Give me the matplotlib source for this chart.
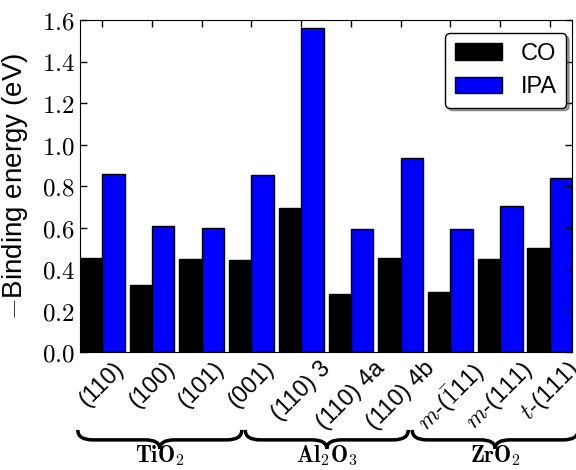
import numpy as np
import matplotlib
matplotlib.use('Agg')
import matplotlib.pyplot as plt
from matplotlib.path import Path
from matplotlib.patches import PathPatch
from matplotlib.ticker import FuncFormatter

plt.rcParams['font.family'] = ['Liberation Sans', 'DejaVu Sans']
plt.rcParams['mathtext.fontset'] = 'cm'

surfaces = ['(110)', '(100)', '(101)', '(001)', '(110) 3', '(110) 4a', '(110) 4b',
            r'$m$-($\bar{1}$11)', r'$m$-(111)', r'$t$-(111)']
co = [0.455, 0.324, 0.45, 0.445, 0.694, 0.281, 0.455, 0.292, 0.448, 0.504]
ipa = [0.859, 0.607, 0.60, 0.853, 1.561, 0.594, 0.936, 0.595, 0.703, 0.841]
groups = [r'$\mathbf{TiO}_\mathbf{2}$', r'$\mathbf{Al}_\mathbf{2}\mathbf{O}_\mathbf{3}$',
          r'$\mathbf{ZrO}_\mathbf{2}$']
group_span = [(-0.004, 0.329), (0.336, 0.667), (0.675, 1.012)]

fig = plt.figure(figsize=(5.76, 4.70), dpi=100)
ax = fig.add_axes([0.1385, 0.2506, 0.855, 0.7064])

x = np.arange(len(surfaces))
w = 0.45
ax.bar(x - w, co, w, align='edge', color='k', edgecolor='k', linewidth=1, label='CO')
ax.bar(x, ipa, w, align='edge', color='b', edgecolor='k', linewidth=1, label='IPA')

ax.set_xlim(-0.45, 9.45)
ax.set_ylim(0, 1.6)
ax.set_yticks(np.arange(0, 1.61, 0.2))
ax.yaxis.set_major_formatter(FuncFormatter(lambda v, p: '$%.1f$' % v))
ax.set_xticks(x)
ax.set_xticklabels(surfaces, rotation=45, fontsize=17)
ax.tick_params(axis='y', labelsize=18)
ax.tick_params(direction='in', top=True, right=True, length=5, width=1)
ax.set_ylabel(r'$-$Binding energy (eV)', fontsize=20)
ax.yaxis.set_label_coords(-0.102, 0.5)

leg = ax.legend(loc='upper right', bbox_to_anchor=(0.988, 0.961), borderaxespad=0,
                fontsize=17, fancybox=True, shadow=True, framealpha=1,
                handlelength=2.0, edgecolor='k')
leg.get_frame().set_linewidth(1)

# curly braces under the tick labels
y0, ym, yt, d = -0.234, -0.264, -0.291, 0.03
for (x0, x1), name in zip(group_span, groups):
    xc = (x0 + x1) / 2
    verts = [(x0, y0), (x0, ym), (x0 + d, ym),
             (xc - d, ym),
             (xc, ym), (xc, yt),
             (xc, ym), (xc + d, ym),
             (x1 - d, ym),
             (x1, ym), (x1, y0)]
    codes = [Path.MOVETO, Path.CURVE3, Path.CURVE3,
             Path.LINETO,
             Path.CURVE3, Path.CURVE3,
             Path.CURVE3, Path.CURVE3,
             Path.LINETO,
             Path.CURVE3, Path.CURVE3]
    ax.add_patch(PathPatch(Path(verts, codes), fc='none', ec='k', lw=2.5,
                           transform=ax.transAxes, clip_on=False))
    ax.text(xc, -0.332, name, transform=ax.transAxes, ha='center', va='baseline',
            fontsize=16.5)

fig.savefig('out.png', dpi=100)
